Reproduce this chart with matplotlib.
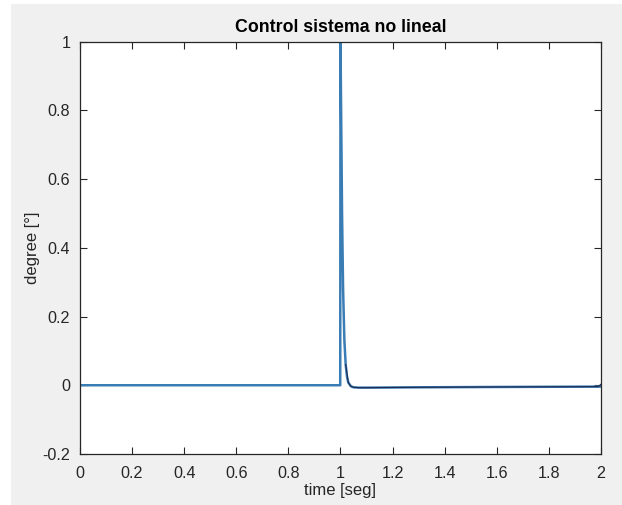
import matplotlib
matplotlib.use('Agg')
from matplotlib import pyplot as plt
from matplotlib import patches

plt.rcParams['font.family'] = ['Liberation Sans', 'DejaVu Sans']

# response
time_s = [0.0, 0.999, 1.0, 1.003, 1.006, 1.01, 1.015, 1.02, 1.025, 1.03, 1.04,
          1.05, 1.07, 1.1, 1.3, 1.6, 2.0]
degree = [0.0, 0.0, 1.0, 0.75, 0.5, 0.28, 0.13, 0.06, 0.025, 0.008, -0.003,
          -0.006, -0.007, -0.007, -0.006, -0.005, -0.004]

# second (dark) trace, visible after the spike
time_dark = [1.02, 1.03, 1.04, 1.05, 1.07, 1.1, 1.3, 1.6, 1.99, 2.0]
degree_dark = [0.06, 0.008, -0.003, -0.006, -0.007, -0.007, -0.006, -0.005, -0.004, 0.003]

x_ticks = [0, 0.2, 0.4, 0.6, 0.8, 1, 1.2, 1.4, 1.6, 1.8, 2]
x_labels = ['0', '0.2', '0.4', '0.6', '0.8', '1', '1.2', '1.4', '1.6', '1.8', '2']
y_ticks = [-0.2, 0, 0.2, 0.4, 0.6, 0.8, 1]
y_labels = ['-0.2', '0', '0.2', '0.4', '0.6', '0.8', '1']

fig = plt.figure(figsize=(6.22, 5.05), dpi=100, facecolor='white')
# grey window background, white strip on top and left like the screenshot
fig.patches.append(patches.Rectangle((11 / 622, 0), 1, 1 - 4 / 505,
                                     transform=fig.transFigure,
                                     facecolor='#f0f0f0', edgecolor='none', zorder=-10))

ax = fig.add_axes([0.1286, 0.101, 0.8376, 0.8168])
ax.set_facecolor('white')

ax.plot(time_s, degree, color='#3a7cb4', linewidth=1.8)
ax.plot(time_dark, degree_dark, color='#1f2a50', linewidth=0.8)

ax.set_xlim(0, 2)
ax.set_ylim(-0.2, 1)
ax.set_xticks(x_ticks)
ax.set_xticklabels(x_labels)
ax.set_yticks(y_ticks)
ax.set_yticklabels(y_labels)
ax.tick_params(direction='in', length=5, width=0.8, color='#262626',
               labelsize=11.6, top=True, right=True, labelcolor='#262626')
ax.tick_params(axis='x', pad=9)
ax.tick_params(axis='y', pad=7)
for s in ax.spines.values():
    s.set_color('#262626')
    s.set_linewidth(0.9)

ax.set_title('Control sistema no lineal', fontsize=12.8, fontweight='bold', pad=6.5)
ax.set_xlabel('time [seg]', fontsize=12, color='#262626', labelpad=1)
ax.set_ylabel('degree [°]', fontsize=12, color='#262626', labelpad=2)

plt.savefig('out.png', dpi=100, facecolor=fig.get_facecolor())
